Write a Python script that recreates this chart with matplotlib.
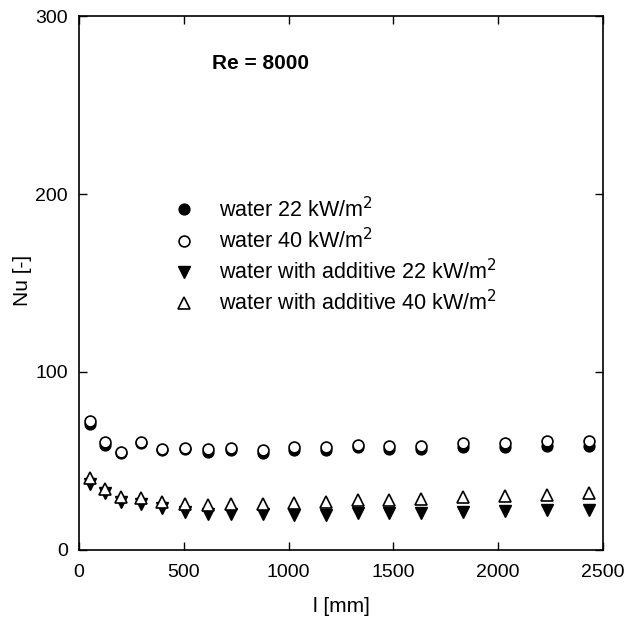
import matplotlib
matplotlib.use("Agg")
import matplotlib.pyplot as plt

plt.rcParams['font.family'] = ['Liberation Sans', 'DejaVu Sans']

l_mm = [53, 124, 201, 294, 396, 503, 616, 725, 878, 1028, 1178, 1330, 1481, 1630, 1833, 2032, 2235, 2436]
water_22 = [71.0, 59.0, 54.3, 60.0, 56.0, 56.5, 55.0, 56.0, 54.6, 56.0, 56.0, 57.7, 57.0, 56.6, 57.7, 57.7, 58.4, 58.4]
water_40 = [72.7, 60.8, 54.9, 60.5, 56.6, 57.1, 56.6, 57.1, 56.0, 57.6, 57.6, 59.0, 58.4, 58.4, 60.0, 60.0, 61.0, 61.0]
additive_22 = [37.0, 31.8, 27.2, 26.0, 23.8, 21.2, 20.2, 20.2, 20.0, 19.5, 19.7, 20.8, 20.6, 20.8, 21.3, 21.8, 22.3, 22.6]
additive_40 = [40.3, 34.5, 29.8, 29.2, 27.2, 25.7, 25.3, 26.0, 26.0, 26.6, 27.0, 28.0, 28.3, 28.8, 29.5, 30.2, 31.1, 32.1]

labels = ['water 22 kW/m$^2$', 'water 40 kW/m$^2$',
          'water with additive 22 kW/m$^2$', 'water with additive 40 kW/m$^2$']

fig = plt.figure(figsize=(6.28, 6.20), dpi=100)
ax = fig.add_axes([0.126, 0.113, 0.834, 0.861])

ms = 7.8
ax.plot(l_mm, water_22, 'o', color='black', ms=ms, label=labels[0], zorder=3)
ax.plot(l_mm, water_40, 'o', mfc='white', mec='black', mew=1.2, ms=ms, label=labels[1], zorder=4)
ax.plot(l_mm, additive_22, 'v', color='black', ms=ms + 0.5, label=labels[2], zorder=3)
ax.plot(l_mm, additive_40, '^', mfc='white', mec='black', mew=1.2, ms=ms + 0.5, label=labels[3], zorder=4)

ax.set_xlim(0, 2500)
ax.set_ylim(0, 300)
ax.set_xticks([0, 500, 1000, 1500, 2000, 2500])
ax.set_yticks([0, 100, 200, 300])
ax.tick_params(direction='in', top=True, right=True, length=6, labelsize=14, width=1)
ax.tick_params(axis='x', pad=10)
ax.tick_params(axis='y', pad=8)
for s in ax.spines.values():
    s.set_linewidth(1.2)
ax.set_xlabel('l [mm]', fontsize=15)
ax.set_ylabel('Nu [-]', fontsize=15)
ax.xaxis.set_label_coords(0.5, -0.088)
ax.yaxis.set_label_coords(-0.09, 0.505)

ax.text(0.347, 0.912, 'Re = 8000', transform=ax.transAxes, fontsize=15,
        fontweight='bold', ha='center', va='center')

leg = ax.legend(loc='upper left', bbox_to_anchor=(162 / 628, 1 - 186 / 620),
                bbox_transform=fig.transFigure, frameon=False, borderpad=0,
                fontsize=15.5, handlelength=1.0, handletextpad=1.15,
                labelspacing=0.28, markerscale=1.0)

fig.savefig('out.png', dpi=100)
